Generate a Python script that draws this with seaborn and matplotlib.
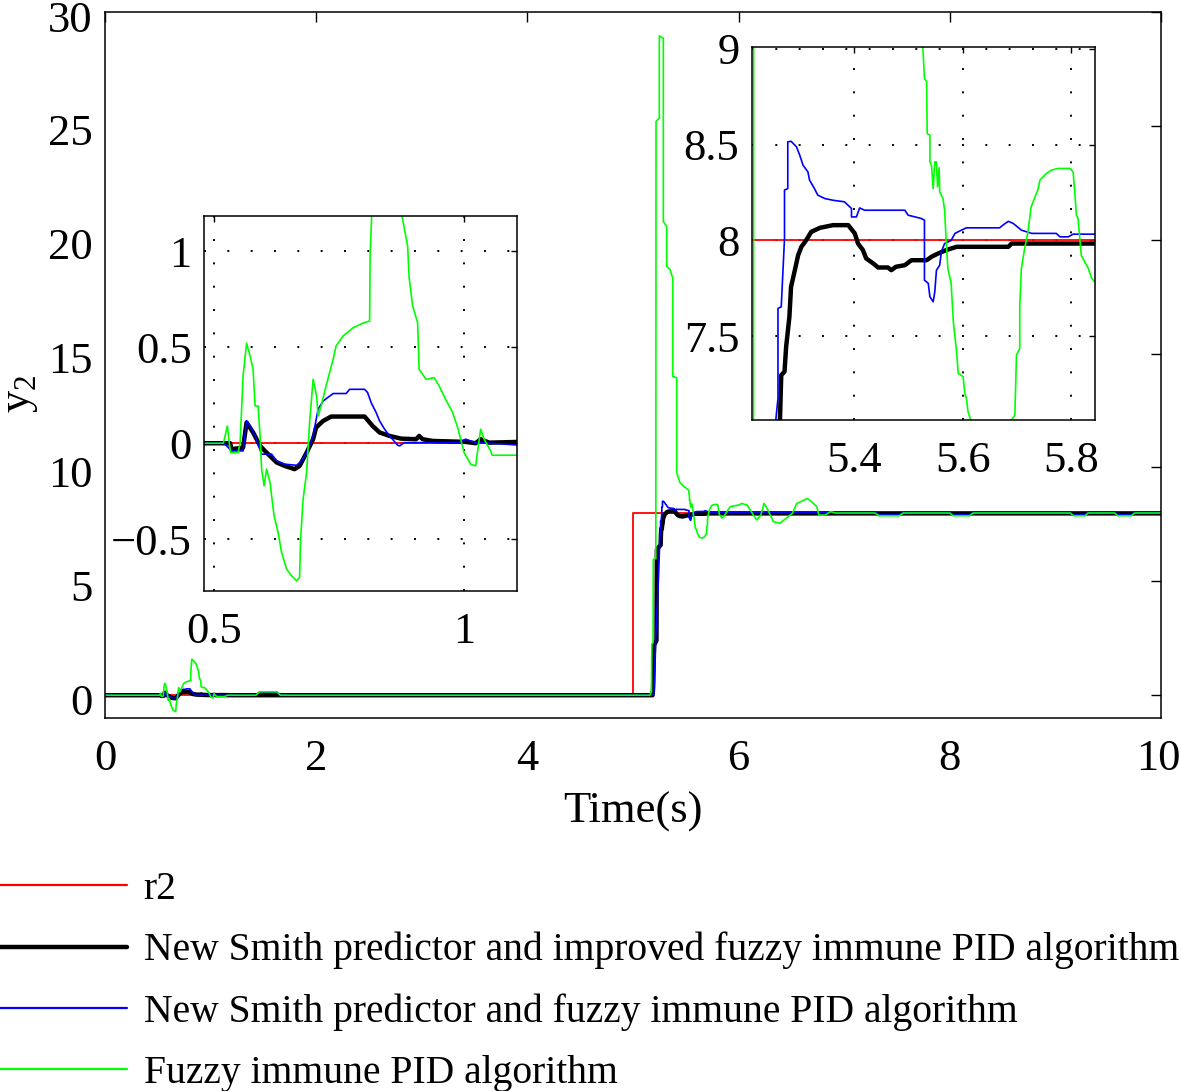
import numpy as np
import pandas as pd
import matplotlib
matplotlib.use("Agg")
import matplotlib.pyplot as plt
import matplotlib.transforms as mtransforms
import seaborn as sns

# ========================= Data =========================
t_r2 = [0, 5.0, 5.0, 10]
y_r2 = [0, 0, 8, 8]

t_improved = [0, 0.532, 0.535, 0.558, 0.565, 0.578, 0.592, 0.605, 0.625, 0.641, 0.661, 0.671,
              0.685, 0.698, 0.704, 0.718, 0.734, 0.801, 0.817, 0.831, 0.851, 0.874, 0.904,
              0.910, 0.917, 0.937, 1.003, 1.023, 1.033, 1.050, 1.11, 1.2,
              5.185, 5.19, 5.2, 5.222, 5.226, 5.262, 5.264, 5.267, 5.273, 5.276, 5.282,
              5.285, 5.292, 5.298, 5.304, 5.313, 5.322, 5.338, 5.362, 5.390, 5.402, 5.408,
              5.417, 5.423, 5.436, 5.445, 5.463, 5.469, 5.478, 5.494, 5.506, 5.534, 5.543,
              5.555, 5.570, 5.589, 5.684, 5.690, 10]
y_improved = [0, 0, -0.031, -0.023, 0.108, 0.056, -0.014, -0.049, -0.1, -0.118, -0.135, -0.118,
              -0.049, 0.021, 0.082, 0.116, 0.139, 0.139, 0.09, 0.056, 0.038, 0.024, 0.021,
              0.038, 0.021, 0.012, 0.007, 0.0, 0.021, 0.003, 0.007, 0.0,
              0, 0.3, 2.2, 2.4, 6.4, 6.6, 7.0, 7.297, 7.315, 7.445, 7.602,
              7.758, 7.845, 7.923, 7.967, 8.002, 8.045, 8.066, 8.08, 8.08, 8.037, 7.984,
              7.95, 7.906, 7.88, 7.859, 7.859, 7.845, 7.863, 7.871, 7.897, 7.897, 7.915,
              7.932, 7.95, 7.967, 7.967, 7.984, 7.984]

t_smith = [0, 0.52, 0.535, 0.558, 0.565, 0.572, 0.582, 0.595, 0.615, 0.625, 0.641, 0.665,
           0.675, 0.685, 0.698, 0.708, 0.718, 0.738, 0.764, 0.771, 0.801, 0.807, 0.814,
           0.824, 0.831, 0.841, 0.851, 0.867, 0.871, 0.880, 0.990, 1.003, 1.023, 1.056,
           1.11, 1.2, 1.43, 1.46, 1.63, 1.66,
           5.19, 5.2, 5.215, 5.24, 5.2548, 5.261, 5.261, 5.267, 5.273, 5.273, 5.279, 5.279,
           5.285, 5.295, 5.301, 5.307, 5.316, 5.319, 5.328, 5.334, 5.347, 5.362, 5.383,
           5.396, 5.396, 5.405, 5.411, 5.420, 5.494, 5.500, 5.524, 5.530, 5.530, 5.537,
           5.540, 5.546, 5.549, 5.552, 5.558, 5.561, 5.567, 5.579, 5.586, 5.598, 5.607,
           5.668, 5.674, 5.684, 5.693, 5.708, 5.727, 5.772, 5.779, 5.794, 5.803, 5.846,
           7.29, 7.33, 7.52, 7.56, 8.0, 8.03, 8.19, 8.22, 9.14, 9.17, 9.28, 9.31,
           9.56, 9.59, 9.72, 9.75, 10]
y_smith = [0, 0, -0.04, -0.04, 0.116, 0.09, 0.038, -0.057, -0.057, -0.092, -0.109, -0.115,
           -0.092, -0.049, 0.038, 0.177, 0.22, 0.259, 0.259, 0.281, 0.281, 0.264, 0.212,
           0.16, 0.116, 0.073, 0.038, -0.01, -0.014, 0.003, 0.003, 0.021, 0.003, 0.0,
           -0.01, 0, 0, 0.12, 0.12, 0,
           0, 0.2, 2.6, 5.0, 7.0, 7.176, 7.645, 7.654, 8.01, 8.263, 8.271, 8.515,
           8.518, 8.489, 8.445, 8.393, 8.358, 8.315, 8.271, 8.237, 8.219, 8.21, 8.202,
           8.167, 8.123, 8.123, 8.17, 8.158, 8.158, 8.132, 8.115, 8.106, 7.793, 7.776,
           7.706, 7.68, 7.732, 7.845, 7.871, 7.941, 7.984, 8.0, 8.037, 8.054, 8.066,
           8.066, 8.08, 8.1, 8.089, 8.054, 8.037, 8.037, 8.019, 8.019, 8.033, 8.033,
           8.033, 7.93, 7.93, 8.033, 8.033, 7.93, 7.93, 8.033, 8.033, 7.93, 7.93, 8.033,
           8.033, 7.93, 7.93, 8.033, 8.033]

t_fuzzy = [0, 0.5186, 0.5266, 0.5305, 0.533, 0.548, 0.552, 0.558, 0.565, 0.572, 0.578, 0.582,
           0.588, 0.592, 0.595, 0.600, 0.605, 0.612, 0.615, 0.620, 0.628, 0.635, 0.645,
           0.655, 0.665, 0.671, 0.673, 0.678, 0.685, 0.691, 0.698, 0.705, 0.708, 0.714,
           0.724, 0.738, 0.744, 0.758, 0.778, 0.797, 0.811, 0.812, 0.816, 0.822, 0.84,
           0.86, 0.872, 0.877, 0.887, 0.890, 0.897, 0.907, 0.910, 0.924, 0.940, 0.950,
           0.963, 0.977, 0.987, 1.000, 1.013, 1.023, 1.033, 1.040, 1.053, 1.056, 1.13,
           1.16, 1.43, 1.46, 1.63, 1.66,
           5.16, 5.175, 5.178, 5.19, 5.192, 5.216, 5.218, 5.249, 5.249, 5.287, 5.287,
           5.319, 5.319, 5.35, 5.376, 5.376, 5.414, 5.414, 5.445, 5.477, 5.50, 5.527,
           5.530, 5.534, 5.535, 5.540, 5.540, 5.543, 5.546, 5.549, 5.552, 5.554, 5.557,
           5.558, 5.564, 5.567, 5.570, 5.573, 5.579, 5.583, 5.589, 5.592, 5.601, 5.604,
           5.607, 5.610, 5.616, 5.63, 5.66, 5.68, 5.690, 5.696, 5.699, 5.705, 5.705,
           5.708, 5.714, 5.720, 5.726, 5.733, 5.739, 5.742, 5.754, 5.763, 5.775, 5.797,
           5.803, 5.806, 5.809, 5.812, 5.818, 5.824, 5.831, 5.837, 5.843,
           5.86, 5.92, 6.0, 6.03, 6.08, 6.14, 6.17, 6.21, 6.24, 6.27, 6.33, 6.39, 6.45,
           6.51, 6.55, 6.59, 6.65, 6.69, 6.74, 6.76, 6.82, 6.87, 6.92,
           7.29, 7.33, 7.52, 7.56, 8.0, 8.03, 8.19, 8.22, 9.14, 9.17, 9.28, 9.31,
           9.56, 9.59, 9.72, 9.75, 10]
y_fuzzy = [0, 0, 0.09, 0, -0.049, -0.049, 0, 0.351, 0.521, 0.455, 0.385, 0.194,
           0.194, 0.038, -0.135, -0.222, -0.135, -0.205, -0.274, -0.378, -0.465, -0.569, -0.656,
           -0.691, -0.717, -0.7, -0.5, -0.292, -0.153, 0.108, 0.333, 0.247, 0.142, 0.194,
           0.299, 0.4375, 0.507, 0.559, 0.602, 0.625, 0.637, 0.976, 1.25, 1.58, 1.5,
           1.4, 1.25, 1.167, 1.028, 0.863, 0.715, 0.628, 0.385, 0.333, 0.342, 0.299,
           0.229, 0.16, 0.082, -0.049, -0.109, -0.118, 0.073, 0.021, -0.04, -0.0625, -0.0625,
           0, 0, 0.15, 0.15, 0,
           0, 0.15, 2.24, 2.3, 5.96, 6.0, 25.19, 25.34, 28.95, 28.85, 20.8,
           20.58, 18.83, 18.7, 18.32, 14.0, 13.94, 9.77, 9.33, 9.18, 9.1, 9.01,
           8.845, 8.828, 8.558, 8.55, 8.41, 8.39, 8.27, 8.41, 8.41, 8.28, 8.38,
           8.254, 8.219, 8.158, 7.993, 7.854, 7.776, 7.576, 7.419, 7.306, 7.289, 7.202,
           7.176, 7.106, 7.054, 6.93, 6.9, 6.97, 7.063, 7.089, 7.402, 7.437, 7.654,
           7.854, 7.958, 8.045, 8.176, 8.228, 8.271, 8.315, 8.35, 8.367, 8.376, 8.376,
           8.358, 8.254, 8.132, 8.115, 7.923, 7.889, 7.854, 7.802, 7.784,
           7.85, 8.28, 8.35, 8.42, 8.35, 7.91, 7.7, 7.91, 8.42, 8.2, 7.62, 7.55, 7.77,
           7.99, 8.42, 8.5, 8.64, 8.5, 8.28, 7.91, 7.91, 8.06, 8.0,
           8.0, 7.88, 7.88, 8.0, 8.0, 7.88, 7.88, 8.0, 8.0, 7.88, 7.88, 8.0,
           8.0, 7.88, 7.88, 8.0, 8.0]

labels = ["r2",
          "New Smith predictor and improved fuzzy immune PID algorithm",
          "New Smith predictor and fuzzy immune PID algorithm",
          "Fuzzy immune PID algorithm"]

# ========================= Styling =========================
sns.set_theme(style="white")
plt.rcParams["font.family"] = ["Liberation Serif", "DejaVu Serif"]
plt.rcParams["mathtext.fontset"] = "custom"
plt.rcParams["mathtext.rm"] = "Liberation Serif"
plt.rcParams["axes.linewidth"] = 1.1
plt.rcParams["axes.edgecolor"] = "black"
plt.rcParams["text.color"] = "black"
plt.rcParams["axes.labelcolor"] = "black"
plt.rcParams["xtick.color"] = "black"
plt.rcParams["ytick.color"] = "black"

series = [
    (t_r2, y_r2, "#ff0000", 1.3),
    (t_improved, y_improved, "black", 3.2),
    (t_smith, y_smith, "#0000ff", 1.2),
    (t_fuzzy, y_fuzzy, "#00ff00", 1.2),
]

FS = 32


def draw_lines(ax, with_labels=False):
    for (t, y, c, lw), lab in zip(series, labels):
        sns.lineplot(x=t, y=y, ax=ax, color=c, lw=lw, sort=False, estimator=None,
                     label=lab if with_labels else None, legend=False)


def style_axes(ax, size, length):
    ax.tick_params(direction="in", top=True, right=True, length=length, width=1.0,
                   labelsize=size, colors="black")
    ax.tick_params(axis="x", pad=15)
    ax.tick_params(axis="y", pad=9)
    for s in ax.spines.values():
        s.set_visible(True)
        s.set_color("black")


def nudge(label, dx_px, dy_px):
    off = mtransforms.ScaledTranslation(dx_px / 100, dy_px / 100, fig.dpi_scale_trans)
    label.set_transform(label.get_transform() + off)


fig = plt.figure(figsize=(11.81, 10.91), dpi=100)

# ========================= Main axes =========================
ax = fig.add_axes([0.0889, 0.3419, 0.8942, 0.6471])
draw_lines(ax, with_labels=True)
ax.set_xlim(0, 10)
ax.set_ylim(-1, 30)
ax.set_xticks(np.arange(0, 11, 2))
ax.set_yticks(np.arange(0, 31, 5))
style_axes(ax, FS, 7)
ax.set_xlabel("Time(s)", fontsize=FS, labelpad=9, color="black")
ax.set_ylabel(r"y$_{\mathrm{2}}$", fontsize=FS, color="black")
ax.yaxis.set_label_coords(-0.062, 0.46)
for lab in ax.get_yticklabels():
    nudge(lab, 0, -4)
nudge(ax.get_xticklabels()[-1], -3, 0)

grid_kw = dict(linestyle=(0, (1, 11)), color="black", lw=1.4)

# ========================= Inset 1 =========================
ax1 = fig.add_axes([0.1728, 0.4583, 0.2651, 0.3437])
draw_lines(ax1)
ax1.set_xlim(0.48, 1.106)
ax1.set_ylim(-0.77, 1.184)
ax1.set_xticks([0.5, 1])
ax1.set_xticklabels(["0.5", "1"])
ax1.set_yticks([-0.5, 0, 0.5, 1])
ax1.set_yticklabels(["\u22120.5", "0", "0.5", "1"])
style_axes(ax1, FS, 4)
ax1.grid(True, **grid_kw)
ax1.set_xlabel("")
ax1.set_ylabel("")

# ========================= Inset 2 =========================
ax2 = fig.add_axes([0.6367, 0.6150, 0.2904, 0.3419])
draw_lines(ax2)
ax2.set_xlim(5.2132, 5.843)
ax2.set_ylim(7.0626, 9.01)
ax2.set_xticks([5.4, 5.6, 5.8])
ax2.set_yticks([7.5, 8, 8.5, 9])
ax2.set_yticklabels(["7.5", "8", "8.5", "9"])
style_axes(ax2, FS, 4)
ax2.grid(True, **grid_kw)
ax2.set_xlabel("")
ax2.set_ylabel("")

# ========================= Legend =========================
handles, labs = ax.get_legend_handles_labels()
leg = fig.legend(handles, labs, loc="upper left", bbox_to_anchor=(0.0, 0.2015),
                 frameon=False, fontsize=28.5, handlelength=3.2, handletextpad=0.43,
                 labelspacing=0.6, borderaxespad=0, borderpad=0, labelcolor="black")
for line in leg.get_lines():
    line.set_linewidth(3.2 if line.get_color() == "black" else 1.6)

fig.savefig("out.png", dpi=100)
